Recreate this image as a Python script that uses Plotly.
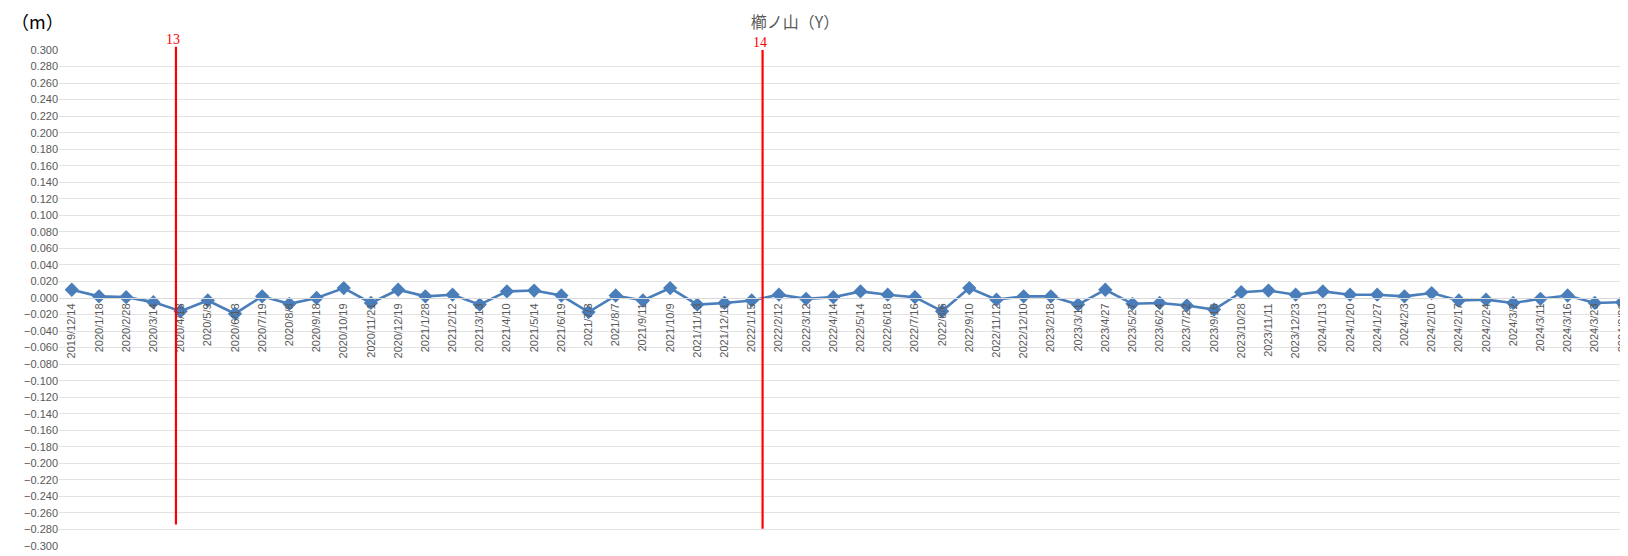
import plotly.graph_objects as go

categories = [
    "2019/12/14", "2020/1/18", "2020/2/28", "2020/3/14", "2020/4/18", "2020/5/9",
    "2020/6/13", "2020/7/19", "2020/8/8", "2020/9/18", "2020/10/19", "2020/11/21",
    "2020/12/19", "2021/1/28", "2021/2/12", "2021/3/13", "2021/4/10", "2021/5/14",
    "2021/6/19", "2021/7/3", "2021/8/7", "2021/9/11", "2021/10/9", "2021/11/13",
    "2021/12/11", "2022/1/15", "2022/2/12", "2022/3/12", "2022/4/14", "2022/5/14",
    "2022/6/18", "2022/7/16", "2022/8/6", "2022/9/10", "2022/11/12", "2022/12/10",
    "2023/2/18", "2023/3/11", "2023/4/27", "2023/5/27", "2023/6/24", "2023/7/22",
    "2023/9/16", "2023/10/28", "2023/11/11", "2023/12/23", "2024/1/13", "2024/1/20",
    "2024/1/27", "2024/2/3", "2024/2/10", "2024/2/17", "2024/2/24", "2024/3/2",
    "2024/3/11", "2024/3/16", "2024/3/23", "2024/3/29",
]

values_y = [
    0.010, 0.002, 0.001, -0.005, -0.016, -0.003,
    -0.019, 0.002, -0.007, 0.000, 0.012, -0.006,
    0.010, 0.002, 0.004, -0.008, 0.008, 0.009,
    0.003, -0.017, 0.003, -0.003, 0.012, -0.008,
    -0.006, -0.003, 0.004, -0.001, 0.001, 0.008,
    0.004, 0.001, -0.016, 0.012, -0.002, 0.002,
    0.002, -0.008, 0.010, -0.007, -0.006, -0.009,
    -0.014, 0.007, 0.009, 0.004, 0.008, 0.004,
    0.004, 0.002, 0.006, -0.003, -0.002, -0.006,
    -0.001, 0.003, -0.006, -0.005,
]

y_min, y_max = -0.3, 0.3
y_ticks = [round(y_min + 0.02 * i, 3) for i in range(31)]

# Reference lines (position in category units, label, vertical extent in data units)
ref_lines_x = [3.83, 25.4]
ref_lines_label = ["13", "14"]
ref_lines_top = [0.304, 0.300]
ref_lines_bottom = [-0.274, -0.279]

title_text = "櫛ノ山（Y）"
unit_text = "（m）"


def to_paper(v):
    return (v - y_min) / (y_max - y_min)


fig = go.Figure()
fig.add_trace(go.Scatter(
    x=categories, y=values_y, mode="lines+markers",
    line=dict(color="#4A7EBB", width=2.6),
    marker=dict(symbol="diamond", size=11, color="#4A7EBB"),
    showlegend=False, cliponaxis=False,
))

for xv, lab, yt, yb in zip(ref_lines_x, ref_lines_label, ref_lines_top, ref_lines_bottom):
    fig.add_shape(type="line", xref="x", yref="paper", x0=xv, x1=xv,
                  y0=to_paper(yb), y1=to_paper(yt),
                  line=dict(color="#FF0000", width=2.2), layer="above")
    fig.add_annotation(x=xv - 0.1, y=to_paper(yt), xref="x", yref="paper", text=lab,
                       showarrow=False, yanchor="bottom", yshift=-2,
                       font=dict(family="Liberation Serif", size=14, color="#FF0000"))

fig.add_annotation(x=0, y=1, xref="paper", yref="paper", text=unit_text, showarrow=False,
                   xanchor="left", yanchor="bottom", xshift=-50, yshift=14,
                   font=dict(family="Noto Sans CJK JP", size=18, color="#000000"))

# page body has an 8px margin: the figure is sized/offset to compensate
fig.update_layout(
    width=1620, height=548,
    margin=dict(l=51, r=0, t=42, b=10),
    paper_bgcolor="white", plot_bgcolor="white",
    title=dict(text=title_text, x=787 / 1620, xanchor="center", y=1 - 14 / 548, yanchor="middle",
               font=dict(family="Noto Sans CJK JP", size=16, color="#595959")),
    xaxis=dict(
        type="category", categoryorder="array", categoryarray=categories,
        range=[-0.47, 57.11], anchor="free", position=0.5,
        tickangle=-90, tickfont=dict(family="Liberation Sans", size=11, color="#595959"),
        showgrid=False, showline=True, linecolor="#D9D9D9", linewidth=1, ticks="",
        zeroline=False,
    ),
    yaxis=dict(
        range=[y_min, y_max], tickvals=y_ticks, tickformat=".3f",
        tickfont=dict(family="Liberation Sans", size=11, color="#595959"),
        showgrid=True, gridcolor="#E3E3E3", gridwidth=1, zeroline=False,
        ticks="", showline=False,
    ),
)

fig.write_html("out.html")
